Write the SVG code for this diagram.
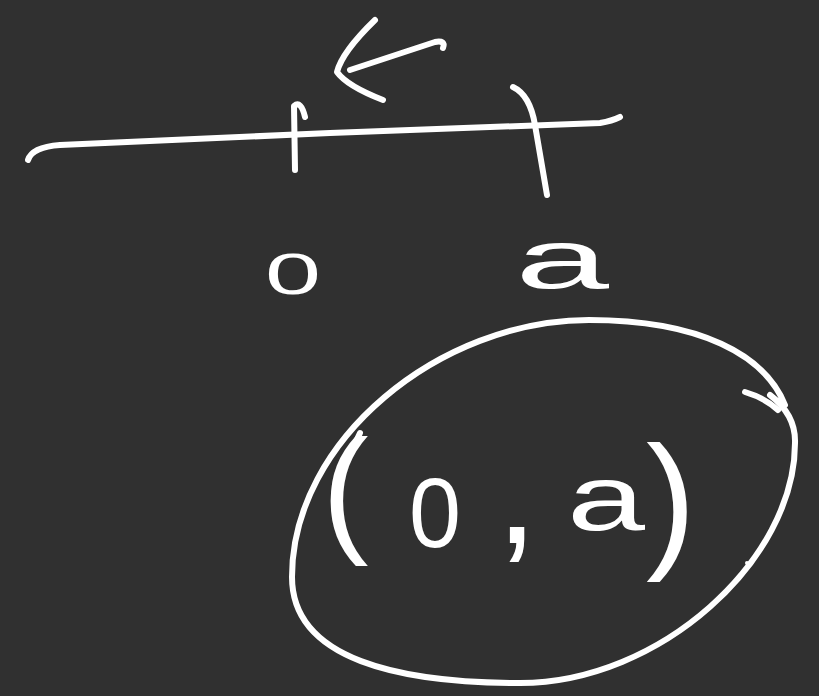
<svg xmlns="http://www.w3.org/2000/svg" width="819" height="696" viewBox="0 0 819 696">
<style>
.s{fill:none;stroke:#ffffff;stroke-width:6;stroke-linecap:round;stroke-linejoin:round}
.t{fill:#ffffff;font-family:"Liberation Sans",Arial,sans-serif}
</style>
<rect width="819" height="696" fill="#303030"/>
<g id="number-line">
<path class="s" d="M28,160 Q32,147 60,145 L330,133 L600,123 Q612,121 620,117"/>
<path class="s" d="M295,170 L294,106 Q301,100 305,117"/>
<path class="s" d="M513,87 Q530,95 535,125 L547,195"/>
</g>
<g id="arrow">
<path class="s" d="M375,20 Q342,52 337,72 Q347,86 383,100"/>
<path class="s" d="M443,48 Q446,40 435,42 L350,70"/>
</g>
<g id="labels">
<text class="t" x="265" y="294" font-size="58" textLength="56" lengthAdjust="spacingAndGlyphs">0</text>
<text class="t" x="515" y="288" font-size="84" textLength="94" lengthAdjust="spacingAndGlyphs">a</text>
</g>
<g id="interval">
<path class="s" d="M770,395 Q796,415 795,443 C795,560 660,683 520,683 C400,683 292,660 292,577 C292,440 440,320 589,320 C700,320 765,355 785,405"/>
<path class="s" d="M745,392 Q765,398 778,410"/>
<circle cx="747" cy="563" r="2" fill="#ffffff"/>
<path class="s" d="M352,450 L360,433"/>
<text class="t" x="322" y="537" font-size="140">(</text>
<text class="t" x="409" y="547" font-size="98" textLength="52" lengthAdjust="spacingAndGlyphs">0</text>
<text class="t" x="496" y="543" font-size="150">,</text>
<text class="t" x="567" y="530" font-size="92" textLength="78" lengthAdjust="spacingAndGlyphs">a</text>
<text class="t" x="646" y="551" font-size="150">)</text>
</g>
</svg>
